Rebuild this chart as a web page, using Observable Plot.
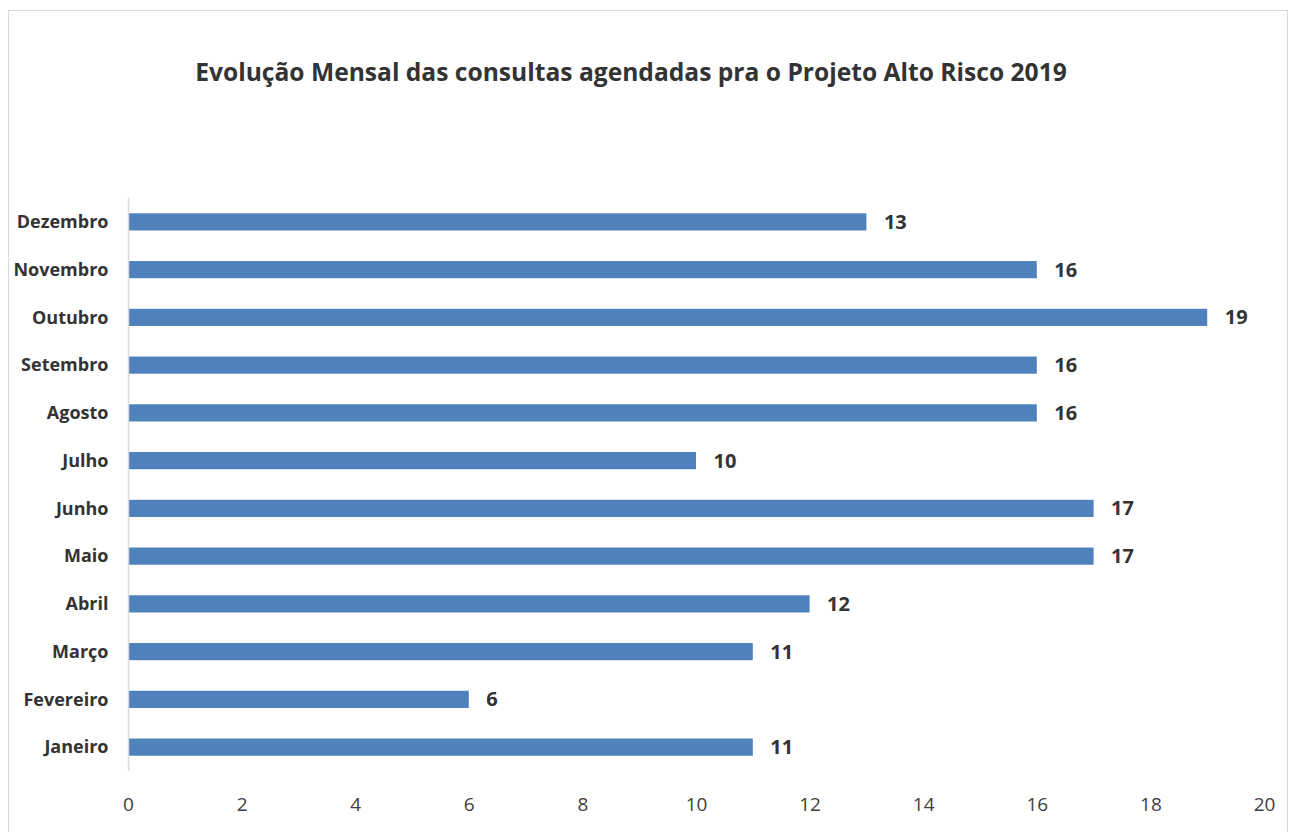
<!DOCTYPE html>
<html>
<head>
<meta charset="utf-8">
<script src="https://cdn.jsdelivr.net/npm/d3@7"></script>
<script src="https://cdn.jsdelivr.net/npm/@observablehq/plot@0.6"></script>
<style>
  html, body { margin: 0; padding: 0; background: #fff; }
  body { width: 1290px; height: 832px; position: relative; overflow: hidden; font-family: "Open Sans", sans-serif; }
  #frame { position: absolute; left: 8px; top: 10px; width: 1280px; height: 840px; border: 1px solid #d9d9d9; box-sizing: border-box; }
  #title { position: absolute; left: 0; width: 1262px; top: 54px; text-align: center; font-weight: bold; font-size: 24.6px; color: #333; line-height: 36px; }
  #chart { position: absolute; left: 0; top: 0; }
</style>
</head>
<body>
<div id="frame"></div>
<div id="title">Evolução Mensal das consultas agendadas pra o Projeto Alto Risco 2019</div>
<div id="chart"></div>
<script>
const months = ["Janeiro","Fevereiro","Março","Abril","Maio","Junho","Julho","Agosto","Setembro","Outubro","Novembro","Dezembro"];
const values = [11, 6, 11, 12, 17, 17, 10, 16, 16, 19, 16, 13];
const xTicks = [0, 2, 4, 6, 8, 10, 12, 14, 16, 18, 20];

const data = months.map((m, i) => ({month: m, value: values[i]}));
const order = months.slice().reverse();

const plot = Plot.plot({
  width: 1290,
  height: 832,
  marginLeft: 128,
  marginRight: 26,
  marginTop: 198,
  marginBottom: 61,
  style: {fontFamily: "Open Sans, sans-serif", background: "transparent", overflow: "visible"},
  x: {domain: [0, 20], ticks: xTicks, tickSize: 0, tickPadding: 26, label: null},
  y: {domain: order, paddingInner: 0.64, paddingOuter: 0.32, round: false, tickSize: 0, tickPadding: 20, label: null},
  marks: [
    Plot.barX(data, {y: "month", x: "value", fill: "#4f81bd"}),
    Plot.ruleX([0], {stroke: "#d9d9d9", strokeWidth: 1.5}),
    Plot.text(data, {y: "month", x: "value", text: d => String(d.value), textAnchor: "start", dx: 17, fontSize: 20, fontWeight: "bold", fill: "#333"}),
    Plot.axisX({ticks: xTicks, tickSize: 0, tickPadding: 26, fontSize: 19, color: "#404040", label: null}),
    Plot.axisY({tickSize: 0, tickPadding: 20, fontSize: 18, fontWeight: "bold", color: "#333", label: null})
  ]
});
document.getElementById("chart").appendChild(plot);
</script>
</body>
</html>
